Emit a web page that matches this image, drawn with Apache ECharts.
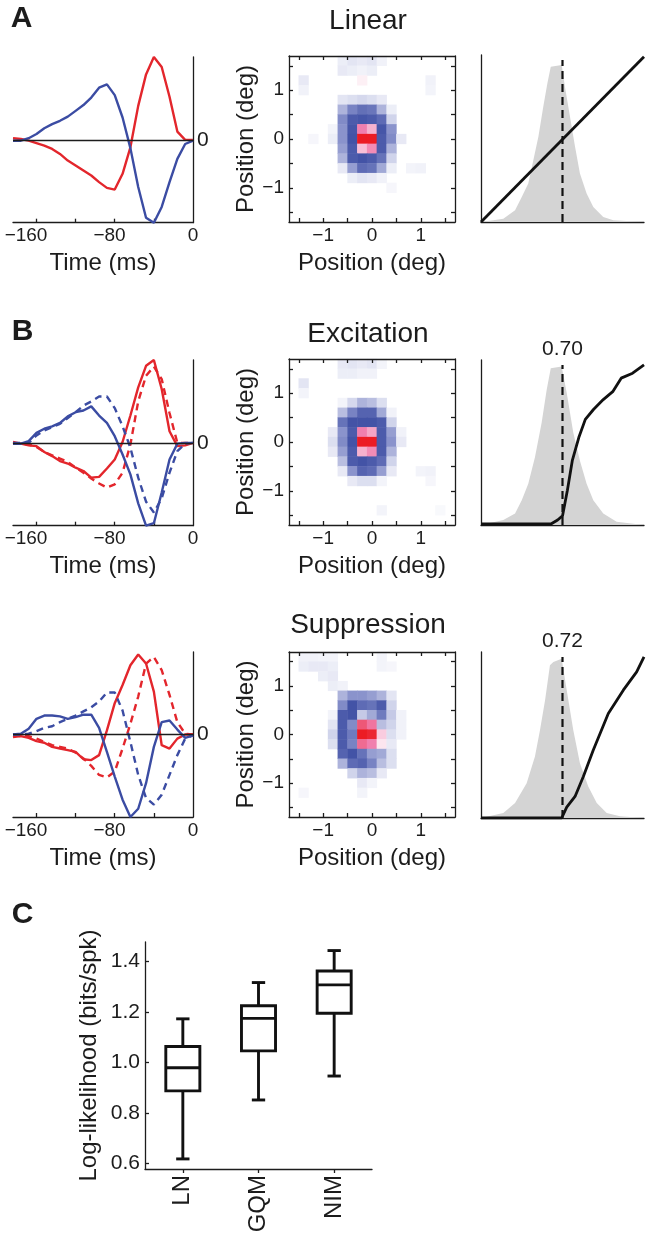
<!DOCTYPE html>
<html><head><meta charset="utf-8">
<script src="https://cdn.jsdelivr.net/npm/echarts@6/dist/echarts.min.js"></script>
<style>html,body{margin:0;padding:0;background:#fff}#c{width:652px;height:1239px}</style>
</head><body><div id="c"></div><script>
// ---------- DATA ----------
const lagsMs = [-172.5,-165,-157.5,-150,-142.5,-135,-127.5,-120,-112.5,-105,-97.5,-90,-82.5,-75,-67.5,-60,-52.5,-45,-37.5,-30,-22.5,-15,-7.5,0];
const timeTickLabels = [-160,-80,0];
const timeTicks = [-150,-112.5,-75,-37.5];
// Panel A (Linear) temporal kernels
const linRed  = [0.02,0.01,-0.01,-0.04,-0.07,-0.11,-0.17,-0.25,-0.31,-0.37,-0.43,-0.51,-0.58,-0.6,-0.41,-0.09,0.41,0.79,1.0,0.88,0.52,0.1,0,0];
const linBlue = [-0.01,-0.01,0.02,0.07,0.14,0.19,0.23,0.28,0.35,0.42,0.51,0.63,0.67,0.54,0.27,-0.1,-0.57,-0.94,-1.0,-0.81,-0.51,-0.23,-0.05,-0.01];
// Panel B Excitation (solid) with dashed comparison
const excRed   = [0.01,-0.01,-0.03,-0.04,-0.11,-0.16,-0.22,-0.25,-0.30,-0.34,-0.42,-0.41,-0.31,-0.2,0.01,0.33,0.67,0.93,1.0,0.65,0.14,-0.04,-0.03,0];
const excRedD  = [0,-0.01,-0.02,-0.05,-0.11,-0.15,-0.19,-0.23,-0.30,-0.36,-0.43,-0.49,-0.54,-0.5,-0.36,-0.02,0.5,0.81,0.92,0.77,0.36,0,0,0];
const excBlue  = [-0.01,-0.01,0.02,0.12,0.17,0.2,0.24,0.32,0.37,0.39,0.44,0.33,0.24,0.08,-0.14,-0.38,-0.73,-1.0,-0.97,-0.6,-0.2,-0.01,0,0];
const excBlueD = [0,0,0,0.09,0.15,0.19,0.23,0.3,0.37,0.45,0.5,0.56,0.56,0.42,0.2,-0.06,-0.42,-0.71,-0.84,-0.67,-0.36,-0.1,-0.01,0];
// Panel B Suppression
const supRed   = [-0.03,-0.02,-0.04,-0.08,-0.1,-0.15,-0.17,-0.19,-0.21,-0.3,-0.31,-0.25,0.05,0.38,0.6,0.84,0.97,0.86,0.52,-0.13,-0.17,-0.05,0,0];
const supRedD  = [-0.01,-0.02,-0.02,-0.05,-0.09,-0.13,-0.15,-0.17,-0.22,-0.29,-0.38,-0.49,-0.52,-0.45,-0.17,0.13,0.46,0.86,0.94,0.78,0.48,0.15,0.01,0];
const supBlue  = [0,0.01,0.07,0.19,0.23,0.23,0.22,0.19,0.21,0.24,0.24,0.08,-0.21,-0.51,-0.79,-1.0,-0.9,-0.59,-0.15,0.15,0.17,0.06,-0.04,-0.01];
const supBlueD = [0,0,0.01,0.04,0.08,0.1,0.15,0.19,0.23,0.28,0.33,0.4,0.51,0.51,0.29,-0.09,-0.49,-0.77,-0.85,-0.73,-0.49,-0.25,-0.05,-0.01];

// Spatial maps: cell centres (deg) and non-zero cells [x, y, weight]
const posDeg = [-1.6,-1.4,-1.2,-1.0,-0.8,-0.6,-0.4,-0.2,0,0.2,0.4,0.6,0.8,1.0,1.2,1.4,1.6];
const posTickLabels = [-1,0,1];
const posTicks = [-1.5,-1,-0.5,0,0.5,1,1.5];
const heatLin = [
 [-0.6,1.6,-0.08],[-0.4,1.6,-0.12],[-0.2,1.6,-0.1],[0,1.6,-0.12],[0.2,1.6,-0.06],
 [-0.6,1.4,-0.1],[-0.4,1.4,-0.08],[-0.2,1.4,-0.06],[0,1.4,-0.08],
 [-1.4,1.2,-0.1],[-0.2,1.2,0.06],[-1.4,1.0,-0.06],[1.2,1.2,-0.06],[1.2,1.0,-0.05],
 [-0.6,0.8,-0.12],[-0.4,0.8,-0.15],[-0.2,0.8,-0.18],[0,0.8,-0.15],[0.2,0.8,-0.1],
 [-0.6,0.6,-0.35],[-0.4,0.6,-0.6],[-0.2,0.6,-0.72],[0,0.6,-0.68],[0.2,0.6,-0.35],[0.4,0.6,-0.08],
 [-0.6,0.4,-0.55],[-0.4,0.4,-0.85],[-0.2,0.4,-0.88],[0,0.4,-0.85],[0.2,0.4,-0.75],[0.4,0.4,-0.2],
 [-0.8,0.2,-0.05],[-0.6,0.2,-0.5],[-0.4,0.2,-0.88],[-0.2,0.2,0.5],[0,0.2,0.3],[0.2,0.2,-0.88],[0.4,0.2,-0.5],
 [-1.2,0,-0.04],[-0.8,0,-0.08],[-0.6,0,-0.5],[-0.4,0,-0.9],[-0.2,0,1],[0,0,1],[0.2,0,-0.85],[0.4,0,-0.55],[0.6,0,-0.1],
 [-0.6,-0.2,-0.45],[-0.4,-0.2,-0.85],[-0.2,-0.2,0.25],[0,-0.2,0.45],[0.2,-0.2,-0.85],[0.4,-0.2,-0.35],
 [-0.6,-0.4,-0.35],[-0.4,-0.4,-0.85],[-0.2,-0.4,-0.9],[0,-0.4,-0.85],[0.2,-0.4,-0.7],[0.4,-0.4,-0.2],
 [-0.6,-0.6,-0.1],[-0.4,-0.6,-0.45],[-0.2,-0.6,-0.75],[0,-0.6,-0.7],[0.2,-0.6,-0.4],[0.4,-0.6,-0.08],[0.8,-0.6,-0.05],[1.0,-0.6,-0.06],
 [-0.4,-0.8,-0.08],[-0.2,-0.8,-0.12],[0,-0.8,-0.1],[0.2,-0.8,-0.06],[0.4,-1.0,-0.04]
];
const heatExc = [
 [-0.6,1.6,-0.1],[-0.4,1.6,-0.12],[-0.2,1.6,-0.1],[0,1.6,-0.12],[0.2,1.6,-0.05],
 [-0.6,1.4,-0.08],[-0.4,1.4,-0.08],[-0.2,1.4,-0.06],[0,1.4,-0.06],
 [-1.4,1.2,-0.12],[-1.4,1.0,-0.05],
 [-0.6,0.8,-0.05],[-0.4,0.8,-0.18],[-0.2,0.8,-0.35],[0,0.8,-0.3],[0.2,0.8,-0.15],
 [-0.6,0.6,-0.3],[-0.4,0.6,-0.6],[-0.2,0.6,-0.8],[0,0.6,-0.8],[0.2,0.6,-0.4],[0.4,0.6,-0.06],
 [-0.6,0.4,-0.7],[-0.4,0.4,-0.9],[-0.2,0.4,-0.9],[0,0.4,-0.9],[0.2,0.4,-0.85],[0.4,0.4,-0.2],
 [-0.8,0.2,-0.1],[-0.6,0.2,-0.5],[-0.4,0.2,-0.85],[-0.2,0.2,0.5],[0,0.2,0.35],[0.2,0.2,-0.85],[0.4,0.2,-0.45],[0.6,0.2,-0.06],
 [-0.8,0,-0.15],[-0.6,0,-0.55],[-0.4,0,-0.9],[-0.2,0,1],[0,0,1],[0.2,0,-0.85],[0.4,0,-0.5],[0.6,0,-0.1],
 [-0.8,-0.2,-0.1],[-0.6,-0.2,-0.45],[-0.4,-0.2,-0.85],[-0.2,-0.2,0.3],[0,-0.2,0.45],[0.2,-0.2,-0.85],[0.4,-0.2,-0.35],
 [-0.6,-0.4,-0.3],[-0.4,-0.4,-0.85],[-0.2,-0.4,-0.9],[0,-0.4,-0.85],[0.2,-0.4,-0.75],[0.4,-0.4,-0.2],
 [-0.6,-0.6,-0.1],[-0.4,-0.6,-0.5],[-0.2,-0.6,-0.8],[0,-0.6,-0.75],[0.2,-0.6,-0.45],[0.4,-0.6,-0.1],[1.0,-0.6,-0.05],[1.2,-0.6,-0.06],
 [-0.4,-0.8,-0.1],[-0.2,-0.8,-0.15],[0,-0.8,-0.15],[0.2,-0.8,-0.05],[1.2,-0.8,-0.04],[0.2,-1.4,-0.05],[1.4,-1.4,-0.03]
];
const heatSup = [
 [-1.4,1.6,-0.06],[-1.2,1.6,-0.06],[-1.0,1.6,-0.05],[-0.8,1.6,-0.05],[0.2,1.6,-0.05],
 [-1.4,1.4,-0.08],[-1.2,1.4,-0.1],[-1.0,1.4,-0.1],[-0.8,1.4,-0.08],[0.2,1.4,-0.05],[0.4,1.4,-0.04],
 [-1.0,1.2,-0.08],[-0.8,1.2,-0.1],[-0.8,1.0,-0.08],[-0.6,1.0,-0.06],
 [-0.6,0.8,-0.35],[-0.4,0.8,-0.5],[-0.2,0.8,-0.5],[0,0.8,-0.45],[0.2,0.8,-0.35],[0.4,0.8,-0.12],
 [-0.6,0.6,-0.55],[-0.4,0.6,-0.9],[-0.2,0.6,-0.75],[0,0.6,-0.7],[0.2,0.6,-0.85],[0.4,0.6,-0.2],
 [-0.8,0.4,-0.05],[-0.6,0.4,-0.85],[-0.4,0.4,-0.9],[-0.2,0.4,-0.25],[0,0.4,-0.4],[0.2,0.4,-0.65],[0.4,0.4,-0.25],[0.6,0.4,-0.06],
 [-0.8,0.2,-0.12],[-0.6,0.2,-0.85],[-0.4,0.2,-0.55],[-0.2,0.2,0.7],[0,0.2,0.55],[0.2,0.2,-0.3],[0.4,0.2,-0.2],[0.6,0.2,-0.06],
 [-0.8,0,-0.2],[-0.6,0,-0.85],[-0.4,0,-0.65],[-0.2,0,1],[0,0,0.95],[0.2,0,0.2],[0.4,0,-0.15],[0.6,0,-0.06],
 [-0.8,-0.2,-0.15],[-0.6,-0.2,-0.85],[-0.4,-0.2,-0.6],[-0.2,-0.2,0.6],[0,-0.2,0.5],[0.2,-0.2,0.1],[0.4,-0.2,-0.1],
 [-0.6,-0.4,-0.8],[-0.4,-0.4,-0.9],[-0.2,-0.4,-0.7],[0,-0.4,-0.45],[0.2,-0.4,-0.4],[0.4,-0.4,-0.15],
 [-0.6,-0.6,-0.35],[-0.4,-0.6,-0.75],[-0.2,-0.6,-0.8],[0,-0.6,-0.6],[0.2,-0.6,-0.3],[0.4,-0.6,-0.15],
 [-0.4,-0.8,-0.2],[-0.2,-0.8,-0.35],[0,-0.8,-0.3],[0.2,-0.8,-0.1],
 [-0.2,-1.0,-0.1],[0,-1.0,-0.05],[-0.2,-1.2,-0.05],[-1.4,-1.2,-0.04]
];

// Nonlinearities: generator-signal histograms [x, density] and output curves [x, rate]
const histLin = [[0,0],[0.075,0.01],[0.137,0.02],[0.209,0.07],[0.25,0.15],[0.29,0.23],[0.321,0.37],[0.352,0.51],[0.382,0.69],[0.407,0.83],[0.428,0.93],[0.495,0.94],[0.515,0.81],[0.546,0.63],[0.577,0.45],[0.607,0.29],[0.648,0.17],[0.689,0.09],[0.75,0.03],[0.812,0.01],[1,0]];
const histExc = [[0,0],[0.137,0.03],[0.209,0.07],[0.25,0.15],[0.29,0.25],[0.331,0.41],[0.372,0.62],[0.403,0.82],[0.428,0.95],[0.495,0.96],[0.526,0.8],[0.566,0.56],[0.607,0.39],[0.648,0.25],[0.689,0.15],[0.75,0.07],[0.832,0.02],[1,0]];
const histSup = [[0,0],[0.137,0.03],[0.209,0.09],[0.28,0.21],[0.331,0.37],[0.362,0.53],[0.393,0.71],[0.423,0.92],[0.444,0.94],[0.495,0.96],[0.526,0.77],[0.566,0.53],[0.607,0.33],[0.658,0.19],[0.71,0.09],[0.771,0.03],[0.853,0.01],[1,0]];
const nlLin = [[0,0],[1,0.99]];
const nlExc = [[0,0.006],[0.429,0.006],[0.47,0.03],[0.5,0.055],[0.53,0.21],[0.56,0.39],[0.6,0.53],[0.64,0.64],[0.69,0.7],[0.75,0.76],[0.81,0.81],[0.86,0.89],[0.93,0.92],[1.0,0.97]];
const nlSup = [[0,0],[0.495,0],[0.526,0.066],[0.577,0.13],[0.628,0.25],[0.689,0.41],[0.781,0.63],[0.873,0.77],[0.955,0.88],[1.0,0.97]];
const thrLin = 0.5, thrExc = 0.5, thrSup = 0.5;
const thrLabelExc = '0.70', thrLabelSup = '0.72';

// Panel C
const models = ['LN','GQM','NIM'];
const llMin = [0.617,0.851,0.946];
const llQ1  = [0.887,1.046,1.195];
const llMed = [0.979,1.175,1.308];
const llQ3  = [1.063,1.225,1.363];
const llMax = [1.173,1.317,1.444];
const llTicks = [0.6,0.8,1.0,1.2,1.4];

// ---------- STYLE ----------
const FONT = 'Liberation Sans';
const TXT = '#1c1c1c';
const RED = '#e3262c', BLUE = '#3b4ca3';
const AXL = {color:'#1c1c1c', width:1.3};
const minus = v => String(v).replace('-', '\u2212');
const catName = d => (Math.abs(d) < 1e-9 ? 0 : d).toFixed(1);

const option = {animation:false, backgroundColor:'#fff', grid:[], xAxis:[], yAxis:[], series:[], graphic:[], visualMap:[]};
const heatSeries = [];

function addGrid(rect){ option.grid.push(Object.assign({outerBoundsMode:'none', containLabel:false}, rect)); return option.grid.length-1; }

function temporal(top, h, curves){
  const gi = addGrid({left:13, top, width:180, height:h});
  option.xAxis.push({gridIndex:gi, type:'value', min:-172.5, max:0, position:'bottom',
    axisLine:{show:true, onZero:false, lineStyle:AXL}, splitLine:{show:false},
    axisTick:{show:true, inside:true, length:4, customValues:timeTicks, lineStyle:AXL},
    axisLabel:{customValues:timeTickLabels, formatter:minus, fontSize:19, margin:4, color:TXT, fontFamily:FONT},
    name:'Time (ms)', nameLocation:'middle', nameGap:29, nameTextStyle:{fontSize:24, color:TXT, fontFamily:FONT}});
  option.yAxis.push({gridIndex:gi, type:'value', min:-1, max:1, position:'right',
    axisLine:{show:true, onZero:false, lineStyle:AXL}, splitLine:{show:false}, axisTick:{show:false},
    axisLabel:{customValues:[0], fontSize:21, margin:4, color:TXT, fontFamily:FONT}});
  const xi = option.xAxis.length-1, yi = option.yAxis.length-1;
  curves.forEach((c, k) => {
    const s = {type:'line', xAxisIndex:xi, yAxisIndex:yi, data:lagsMs.map((t,i)=>[t, c.v[i]]),
      symbol:'none', silent:true, z:3,
      lineStyle:{color:c.color, width:2.4, type:c.dashed ? [7,5] : 'solid'}};
    if (k === 0) s.markLine = {symbol:['none','none'], silent:true, label:{show:false},
      lineStyle:{color:'#1c1c1c', width:1.3, type:'solid'}, data:[{yAxis:0}]};
    option.series.push(s);
  });
}

function heat(top, h, cells){
  const rect = {left:289, top, width:166, height:h};
  const gc = addGrid(rect);
  const cats = posDeg.map(catName);
  option.xAxis.push({gridIndex:gc, type:'category', data:cats, show:false});
  option.yAxis.push({gridIndex:gc, type:'category', data:cats, show:false});
  heatSeries.push(option.series.length);
  option.series.push({type:'heatmap', xAxisIndex:option.xAxis.length-1, yAxisIndex:option.yAxis.length-1,
    data:cells.map(c=>[catName(c[0]), catName(c[1]), c[2]]), silent:true, z:1});
  const go = addGrid(rect);
  const tick = {show:true, inside:true, length:4, customValues:posTicks, lineStyle:AXL};
  option.xAxis.push({gridIndex:go, type:'value', min:-1.7, max:1.7, position:'bottom', z:5,
    axisLine:{show:true, onZero:false, lineStyle:AXL}, splitLine:{show:false}, axisTick:tick,
    axisLabel:{customValues:posTickLabels, formatter:minus, fontSize:19, margin:4, color:TXT, fontFamily:FONT},
    name:'Position (deg)', nameLocation:'middle', nameGap:29, nameTextStyle:{fontSize:24, color:TXT, fontFamily:FONT}});
  option.xAxis.push({gridIndex:go, type:'value', min:-1.7, max:1.7, position:'top', z:5,
    axisLine:{show:true, onZero:false, lineStyle:AXL}, splitLine:{show:false}, axisTick:tick, axisLabel:{show:false}});
  option.yAxis.push({gridIndex:go, type:'value', min:-1.7, max:1.7, position:'left', z:5,
    axisLine:{show:true, onZero:false, lineStyle:AXL}, splitLine:{show:false}, axisTick:tick,
    axisLabel:{customValues:posTickLabels, formatter:minus, fontSize:19, margin:5, color:TXT, fontFamily:FONT},
    name:'Position (deg)', nameLocation:'middle', nameGap:31, nameTextStyle:{fontSize:24, color:TXT, fontFamily:FONT}});
  option.yAxis.push({gridIndex:go, type:'value', min:-1.7, max:1.7, position:'right', z:5,
    axisLine:{show:true, onZero:false, lineStyle:AXL}, splitLine:{show:false}, axisTick:tick, axisLabel:{show:false}});
}

function nonlin(top, h, hist, curve, thr, label){
  const gi = addGrid({left:481, top, width:163, height:h});
  option.xAxis.push({gridIndex:gi, type:'value', min:0, max:1, axisLine:{show:true, onZero:false, lineStyle:AXL},
    splitLine:{show:false}, axisTick:{show:false}, axisLabel:{show:false}});
  option.yAxis.push({gridIndex:gi, type:'value', min:0, max:1, axisLine:{show:true, onZero:false, lineStyle:AXL},
    splitLine:{show:false}, axisTick:{show:false}, axisLabel:{show:false}});
  const xi = option.xAxis.length-1, yi = option.yAxis.length-1;
  option.series.push({type:'line', xAxisIndex:xi, yAxisIndex:yi, data:hist, symbol:'none', silent:true, z:1,
    lineStyle:{width:0}, areaStyle:{color:'#d4d4d4', opacity:1}});
  const dash = {type:'line', xAxisIndex:xi, yAxisIndex:yi, data:[[thr,0],[thr,0.97]], symbol:'none', silent:true, z:2,
    lineStyle:{color:'#111', width:2.2, type:[8,5]}};
  if (label) dash.markPoint = {symbol:'circle', symbolSize:1, itemStyle:{color:'rgba(0,0,0,0)'}, silent:true,
    label:{show:true, position:'top', distance:0, formatter:label, fontSize:21, color:TXT, fontFamily:FONT},
    data:[{coord:[thr,1]}]};
  option.series.push(dash);
  option.series.push({type:'line', xAxisIndex:xi, yAxisIndex:yi, data:curve, symbol:'none', silent:true, z:3,
    lineStyle:{color:'#111', width:2.8}});
}

// Row A
temporal(57, 165.7, [{v:linRed, color:RED}, {v:linBlue, color:BLUE}]);
heat(56, 166, heatLin);
nonlin(55, 167, histLin, nlLin, thrLin, null);
// Row B excitation
temporal(360, 165.7, [{v:excRed, color:RED}, {v:excRedD, color:RED, dashed:true}, {v:excBlue, color:BLUE}, {v:excBlueD, color:BLUE, dashed:true}]);
heat(359, 166, heatExc);
nonlin(360, 165, histExc, nlExc, thrExc, thrLabelExc);
// Row B suppression
temporal(652, 165, [{v:supRed, color:RED}, {v:supRedD, color:RED, dashed:true}, {v:supBlue, color:BLUE}, {v:supBlueD, color:BLUE, dashed:true}]);
heat(652, 165, heatSup);
nonlin(652, 166, histSup, nlSup, thrSup, thrLabelSup);

// Panel C
const gb = addGrid({left:145, top:942, width:227, height:227});
option.xAxis.push({gridIndex:gb, type:'category', data:models, axisLine:{show:true, onZero:false, lineStyle:AXL},
  axisTick:{show:true, alignWithLabel:true, length:4, lineStyle:AXL}, splitLine:{show:false},
  axisLabel:{rotate:90, fontSize:24, margin:6, color:TXT, fontFamily:FONT}});
option.yAxis.push({gridIndex:gb, type:'value', min:0.577, max:1.478, axisLine:{show:true, onZero:false, lineStyle:AXL},
  splitLine:{show:false}, axisTick:{show:true, inside:true, length:4, customValues:llTicks, lineStyle:AXL},
  axisLabel:{customValues:llTicks, formatter:v=>v.toFixed(1), fontSize:21, margin:5, color:TXT, fontFamily:FONT},
  name:'Log-likelihood (bits/spk)', nameLocation:'middle', nameGap:44, nameTextStyle:{fontSize:24, color:TXT, fontFamily:FONT}});
option.series.push({type:'custom', xAxisIndex:option.xAxis.length-1, yAxisIndex:option.yAxis.length-1, silent:true,
  encode:{x:0, y:[1,2,3,4,5]},
  data:models.map((m,i)=>[i, llMin[i], llQ1[i], llMed[i], llQ3[i], llMax[i]]),
  renderItem:(params, api)=>{
    const c = api.value(0);
    const pMin = api.coord([c, api.value(1)]), pQ1 = api.coord([c, api.value(2)]), pMed = api.coord([c, api.value(3)]);
    const pQ3 = api.coord([c, api.value(4)]), pMax = api.coord([c, api.value(5)]);
    const band = api.size([1,0])[0];
    const hw = band*0.225, cw = band*0.088, x = pMed[0];
    const st = {stroke:'#111', lineWidth:2.9, fill:null};
    return {type:'group', children:[
      {type:'line', shape:{x1:x, y1:pMax[1], x2:x, y2:pQ3[1]}, style:st},
      {type:'line', shape:{x1:x, y1:pQ1[1], x2:x, y2:pMin[1]}, style:st},
      {type:'line', shape:{x1:x-cw, y1:pMax[1], x2:x+cw, y2:pMax[1]}, style:st},
      {type:'line', shape:{x1:x-cw, y1:pMin[1], x2:x+cw, y2:pMin[1]}, style:st},
      {type:'rect', shape:{x:x-hw, y:pQ3[1], width:2*hw, height:pQ1[1]-pQ3[1]}, style:{stroke:'#111', lineWidth:2.9, fill:'#fff'}},
      {type:'line', shape:{x1:x-hw, y1:pMed[1], x2:x+hw, y2:pMed[1]}, style:st}
    ]};
  }});

option.visualMap.push({type:'continuous', show:false, min:-1, max:1, seriesIndex:heatSeries,
  inRange:{color:['#31439d','#8a93cc','#ffffff','#f07fae','#ec1c24']}});

function txt(x, y, text, size, bold){
  option.graphic.push({type:'text', x, y, silent:true, style:{text, fill:TXT,
    font:(bold?'bold ':'') + size + 'px "' + FONT + '"', textAlign:'center', textVerticalAlign:'middle', align:'center', verticalAlign:'middle'}});
}
txt(21.5, 19, 'A', 30, true);
txt(22.5, 332, 'B', 30, true);
txt(22.5, 915, 'C', 30, true);
txt(368, 21, 'Linear', 28);
txt(368, 334, 'Excitation', 28);
txt(368, 625, 'Suppression', 28);

const chart = echarts.init(document.getElementById('c'), null, {renderer:'canvas'});
chart.setOption(option);
</script></body></html>
